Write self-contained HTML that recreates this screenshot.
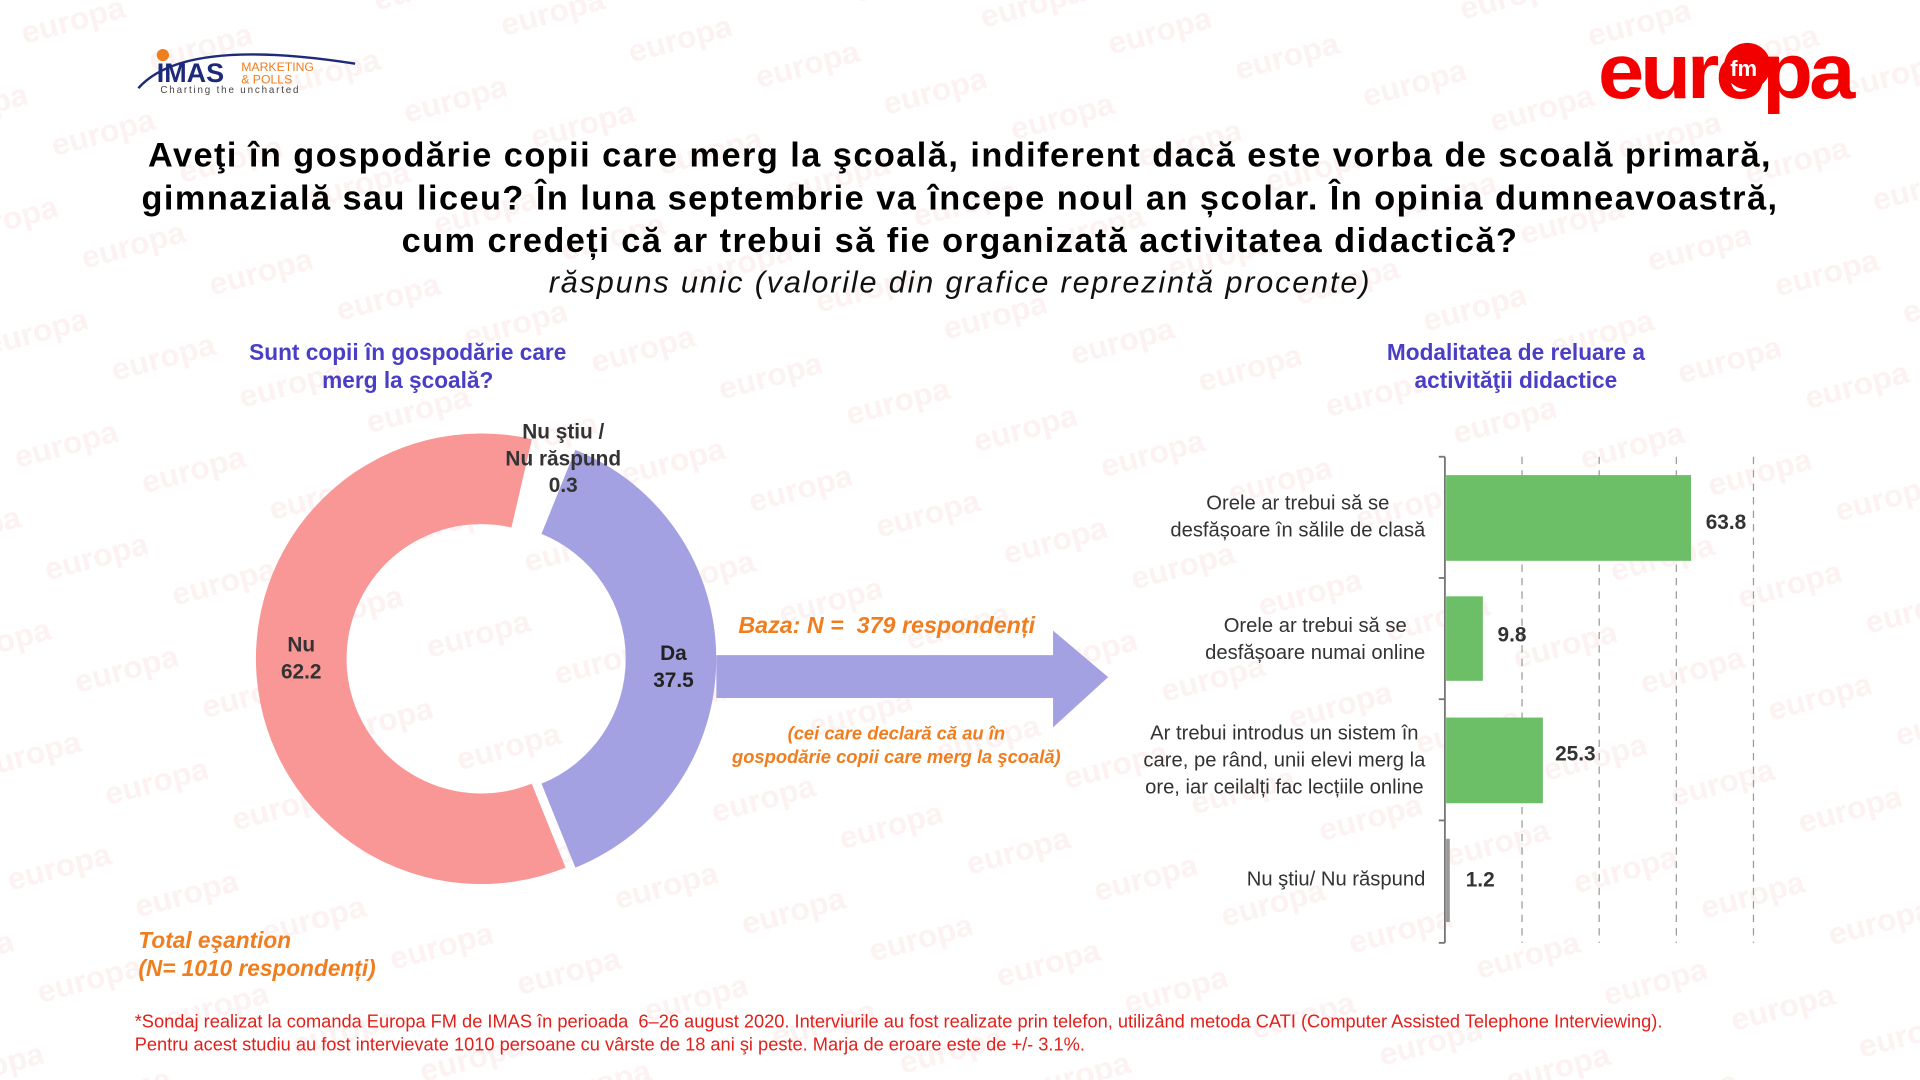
<!DOCTYPE html>
<html><head><meta charset="utf-8"><style>
html,body{margin:0;padding:0;background:#fff;overflow:hidden}
#w{position:absolute;left:0;top:0;width:1568px;height:882px;transform:scale(1.22449);transform-origin:0 0;font-family:"Liberation Sans",sans-serif}
.t{position:absolute;white-space:nowrap}
.c{text-align:center}
</style></head><body><div id="w">
<svg width="1568" height="882" style="position:absolute;left:0;top:0">
<defs><pattern id="wm" width="190" height="95" patternUnits="userSpaceOnUse" patternTransform="rotate(-15)">
<text x="10" y="40" font-family="Liberation Sans" font-weight="bold" font-size="26" fill="#fdf2f2">europa</text>
<text x="105" y="88" font-family="Liberation Sans" font-weight="bold" font-size="26" fill="#fdf2f2">europa</text>
</pattern></defs>
<rect width="1568" height="882" fill="url(#wm)"/>
<!-- IMAS logo -->
<path d="M113 72 Q150 30 290 52" stroke="#1d2a7a" stroke-width="2" fill="none"/>
<circle cx="133" cy="45" r="5" fill="#f07d1e"/>
<text x="128" y="67" font-size="22" font-weight="bold" fill="#1d2a7a" font-family="Liberation Sans">IMAS</text>
<text x="197" y="58" font-size="10" fill="#f07d1e" font-family="Liberation Sans">MARKETING</text>
<text x="197" y="68" font-size="10" fill="#f07d1e" font-family="Liberation Sans">&amp; POLLS</text>
<text x="131" y="76" font-size="8" fill="#444" letter-spacing="1.5" font-family="Liberation Sans">Charting the uncharted</text>
<!-- europa logo -->
<text x="1305" y="80" font-size="64" font-weight="bold" fill="#f20000" font-family="Liberation Sans" letter-spacing="-3" textLength="207" lengthAdjust="spacingAndGlyphs">europa</text>
<circle cx="1427" cy="54" r="19" fill="#f20000"/>
<text x="1413" y="62" font-size="18" font-weight="bold" fill="#fff" font-family="Liberation Sans">fm</text>
<!-- donut -->
<g transform="translate(393,538)">
<path d="M68.9,170.6 A184 184 0 1 1 41.4,-179.3 L24.7,-107.2 A110 110 0 1 0 41.2,102 Z" fill="#f99696"/>
</g>
<g transform="translate(401,538)">
<path d="M68.9,-170.6 A184 184 0 0 1 68.9,170.6 L41.2,102 A110 110 0 0 0 41.2,-102 Z" fill="#a4a1e2"/>
</g>
<!-- arrow -->
<path d="M585 535 L860 535 L860 515 L905 553 L860 594 L860 570 L585 570 Z" fill="#a4a1e2"/>
<!-- bar chart -->
<g stroke="#999" stroke-width="1" stroke-dasharray="6,5">
<line x1="1243" y1="373" x2="1243" y2="770"/><line x1="1306" y1="373" x2="1306" y2="770"/>
<line x1="1369" y1="373" x2="1369" y2="770"/><line x1="1432" y1="373" x2="1432" y2="770"/>
</g>
<rect x="1181" y="388" width="200" height="70" fill="#6dbf67"/>
<rect x="1181" y="487" width="30" height="69" fill="#6dbf67"/>
<rect x="1181" y="586" width="79" height="70" fill="#6dbf67"/>
<rect x="1181" y="685" width="3" height="68" fill="#999"/>
<g stroke="#777" stroke-width="1.5">
<line x1="1180" y1="373" x2="1180" y2="770"/>
<line x1="1175" y1="373" x2="1180" y2="373"/><line x1="1175" y1="472" x2="1180" y2="472"/>
<line x1="1175" y1="571" x2="1180" y2="571"/><line x1="1175" y1="670" x2="1180" y2="670"/>
<line x1="1175" y1="770" x2="1180" y2="770"/>
</g>
</svg>
<div class="t c" style="left:0;width:1568px;top:109px;font-size:28px;letter-spacing:1.2px;font-weight:bold;line-height:35px;color:#000">Aveţi în gospodărie copii care merg la şcoală, indiferent dacă este vorba de scoală primară,<br>gimnazială sau liceu? În luna septembrie va începe noul an școlar. În opinia dumneavoastră,<br>cum credeți că ar trebui să fie organizată activitatea didactică?</div>
<div class="t c" style="left:0;width:1568px;top:217px;font-size:25px;letter-spacing:1.5px;font-style:italic;color:#111">răspuns unic (valorile din grafice reprezintă procente)</div>
<div class="t c" style="left:183px;width:300px;top:276px;font-size:18.5px;font-weight:bold;line-height:23px;color:#4a3fc4">Sunt copii în gospodărie care<br>merg la şcoală?</div>
<div class="t c" style="left:1088px;width:300px;top:276px;font-size:18.5px;font-weight:bold;line-height:23px;color:#4a3fc4">Modalitatea de reluare a<br>activităţii didactice</div>
<div class="t c" style="left:380px;width:160px;top:342px;font-size:17px;font-weight:bold;line-height:22px;color:#333">Nu ştiu /<br>Nu răspund<br>0.3</div>
<div class="t c" style="left:206px;width:80px;top:516px;font-size:17px;font-weight:bold;line-height:22px;color:#333">Nu<br>62.2</div>
<div class="t c" style="left:510px;width:80px;top:523px;font-size:17px;font-weight:bold;line-height:22px;color:#222">Da<br>37.5</div>
<div class="t" style="left:603px;top:501px;font-size:19px;font-weight:bold;font-style:italic;color:#f07d1e">Baza: N =&nbsp; 379 respondenți</div>
<div class="t c" style="left:582px;width:300px;top:590px;font-size:15px;font-weight:bold;font-style:italic;line-height:19px;color:#f07d1e">(cei care declară că au în<br>gospodărie copii care merg la şcoală)</div>
<div class="t" style="left:113px;top:756px;font-size:18.5px;font-weight:bold;font-style:italic;line-height:23px;color:#f07d1e">Total eşantion<br>(N= 1010 respondenți)</div>
<div class="t" style="right:404px;top:400px;font-size:16.5px;line-height:22px;color:#333;text-align:center">Orele ar trebui să se<br>desfășoare în sălile de clasă</div>
<div class="t" style="right:404px;top:500px;font-size:16.5px;line-height:22px;color:#333;text-align:center">Orele ar trebui să se<br>desfășoare numai online</div>
<div class="t" style="right:404px;top:588px;font-size:16.5px;line-height:22px;color:#333;text-align:center">Ar trebui introdus un sistem în<br>care, pe rând, unii elevi merg la<br>ore, iar ceilalți fac lecțiile online</div>
<div class="t" style="right:404px;top:709px;font-size:16.5px;color:#333">Nu ştiu/ Nu răspund</div>
<div class="t" style="left:1393px;top:417px;font-size:17px;font-weight:bold;color:#333">63.8</div>
<div class="t" style="left:1223px;top:509px;font-size:17px;font-weight:bold;color:#333">9.8</div>
<div class="t" style="left:1270px;top:606px;font-size:17px;font-weight:bold;color:#333">25.3</div>
<div class="t" style="left:1197px;top:709px;font-size:17px;font-weight:bold;color:#333">1.2</div>
<div class="t" style="left:110px;top:826px;font-size:14.9px;line-height:19px;color:#e0201b">*Sondaj realizat la comanda Europa FM de IMAS în perioada&nbsp; 6–26 august 2020. Interviurile au fost realizate prin telefon, utilizând metoda CATI (Computer Assisted Telephone Interviewing).<br>Pentru acest studiu au fost intervievate 1010 persoane cu vârste de 18 ani şi peste. Marja de eroare este de +/- 3.1%.</div>
</div></body></html>
